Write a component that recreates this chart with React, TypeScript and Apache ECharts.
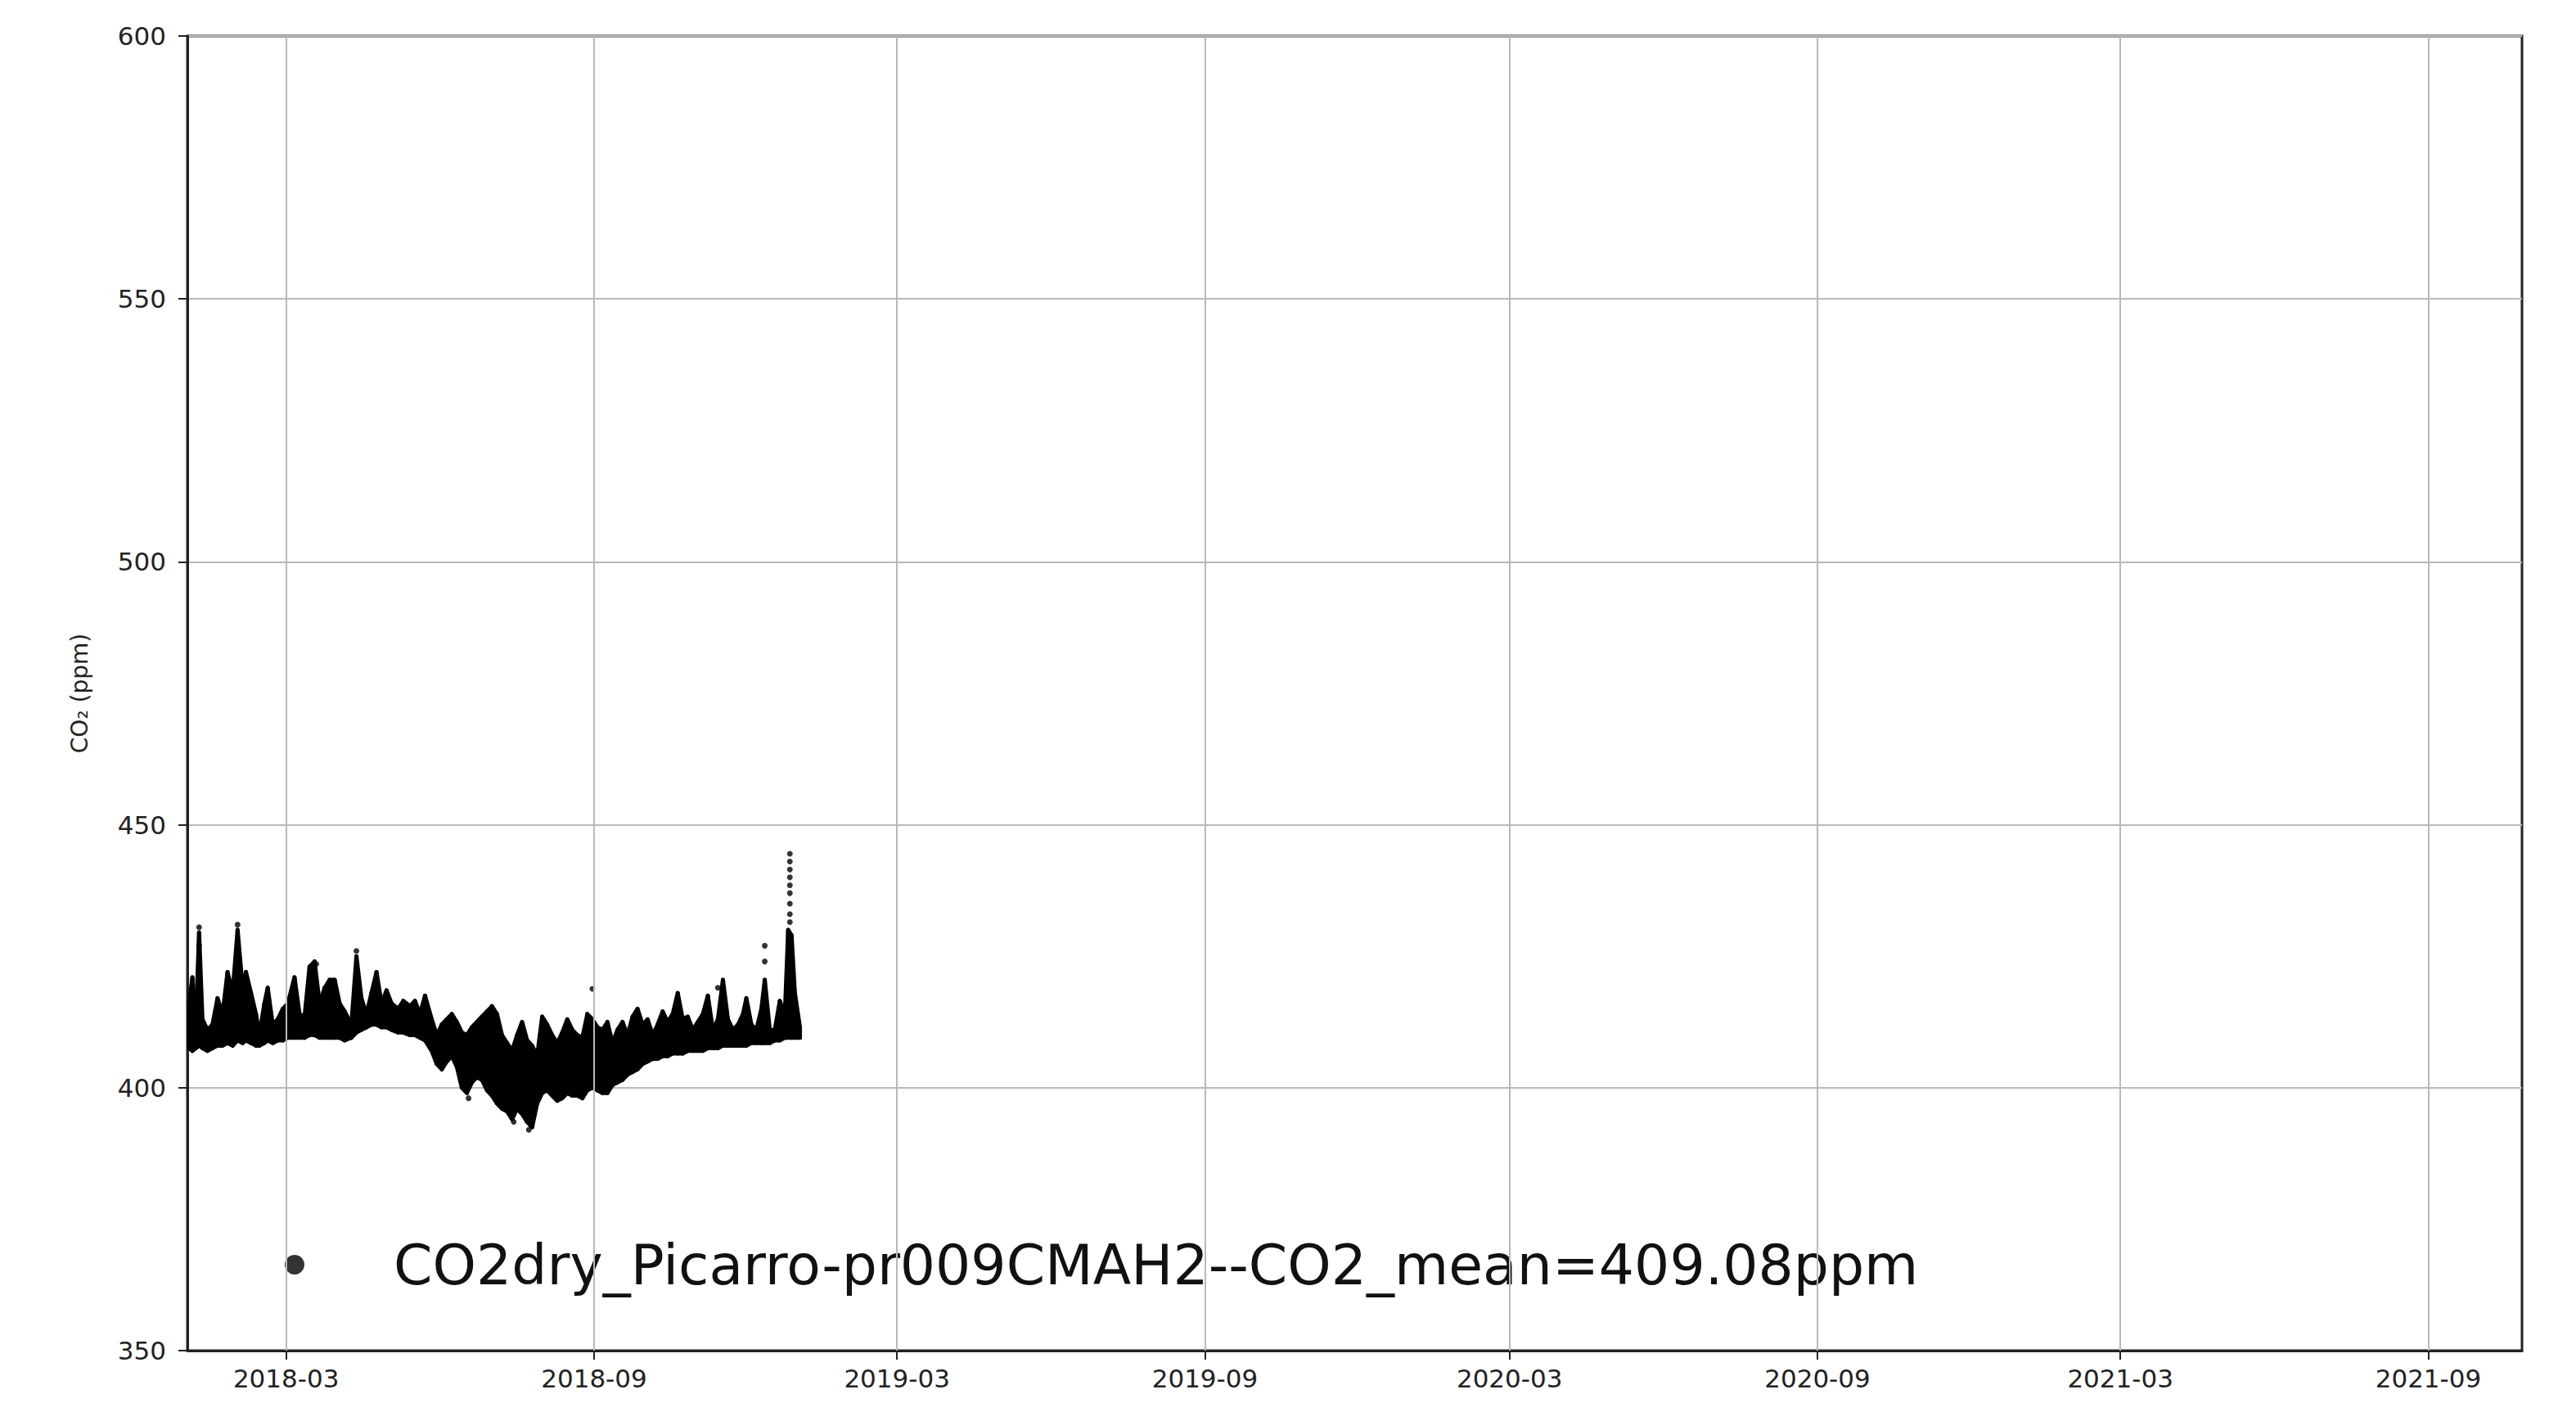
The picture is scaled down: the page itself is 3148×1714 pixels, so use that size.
import React, { useEffect, useRef } from "react";
import * as echarts from "echarts";

const seriesName = "CO2dry_Picarro-pr009CMAH2--CO2_mean=409.08ppm";
const yAxisName = "CO₂ (ppm)";
const xTickLabels = ["2018-03", "2018-09", "2019-03", "2019-09", "2020-03", "2020-09", "2021-03", "2021-09"];
const xMin = "2018-01-01";
const xMax = "2021-10-27";
const yMin = 350;
const yMax = 600;
const yStep = 50;

// band envelope: date, lower edge, upper edge (ppm)
const bandDates = [
  "2018-01-02", "2018-01-04", "2018-01-06", "2018-01-08", "2018-01-10", "2018-01-13", "2018-01-16", "2018-01-19",
  "2018-01-22", "2018-01-25", "2018-01-28", "2018-01-31", "2018-02-03", "2018-02-05", "2018-02-08", "2018-02-11",
  "2018-02-13", "2018-02-16", "2018-02-18", "2018-02-21", "2018-02-24", "2018-02-27", "2018-03-02", "2018-03-06",
  "2018-03-09", "2018-03-12", "2018-03-15", "2018-03-18", "2018-03-21", "2018-03-24", "2018-03-27", "2018-03-30",
  "2018-04-02", "2018-04-05", "2018-04-09", "2018-04-12", "2018-04-15", "2018-04-18", "2018-04-21", "2018-04-24",
  "2018-04-27", "2018-04-30", "2018-05-03", "2018-05-07", "2018-05-10", "2018-05-14", "2018-05-17", "2018-05-20",
  "2018-05-23", "2018-05-27", "2018-05-30", "2018-06-02", "2018-06-05", "2018-06-08", "2018-06-11", "2018-06-14",
  "2018-06-17", "2018-06-20", "2018-06-23", "2018-06-26", "2018-06-29", "2018-07-02", "2018-07-05", "2018-07-08",
  "2018-07-11", "2018-07-14", "2018-07-17", "2018-07-20", "2018-07-23", "2018-07-26", "2018-07-29", "2018-08-01",
  "2018-08-04", "2018-08-07", "2018-08-10", "2018-08-13", "2018-08-16", "2018-08-19", "2018-08-22", "2018-08-25",
  "2018-08-28", "2018-08-31", "2018-09-03", "2018-09-06", "2018-09-09", "2018-09-12", "2018-09-15", "2018-09-18",
  "2018-09-21", "2018-09-24", "2018-09-27", "2018-09-30", "2018-10-03", "2018-10-06", "2018-10-09", "2018-10-12",
  "2018-10-15", "2018-10-18", "2018-10-21", "2018-10-24", "2018-10-27", "2018-10-30", "2018-11-02", "2018-11-05",
  "2018-11-08", "2018-11-11", "2018-11-14", "2018-11-17", "2018-11-20", "2018-11-23", "2018-11-26", "2018-11-29",
  "2018-12-01", "2018-12-04", "2018-12-07", "2018-12-10", "2018-12-12", "2018-12-15", "2018-12-18", "2018-12-21",
  "2018-12-24", "2018-12-26", "2018-12-28", "2018-12-30", "2019-01-02",
];
const bandLow = [
  407.5, 407, 407.5, 408, 407.5, 407, 407.5, 408,
  408, 408.5, 408, 409, 408.5, 409, 408.5, 408,
  408, 408.5, 409, 408.5, 409, 409, 409.5, 409.5,
  409.5, 409.5, 410, 410, 409.5, 409.5, 409.5, 409.5,
  409.5, 409, 409.5, 410.5, 411, 411.5, 412, 412,
  411.5, 411.5, 411, 410.5, 410.5, 410, 410, 409.5,
  409, 407, 404.5, 403.5, 405, 406, 404, 400,
  399, 401, 402, 401.5, 399.5, 398.5, 397, 396,
  395.5, 394, 396, 395, 393.5, 392.5, 397, 399,
  399.5, 398.5, 397.5, 398, 399, 398.5, 398.5, 398,
  399.5, 400, 399.5, 399, 399, 400.5, 401, 401.5,
  402.5, 403, 403.5, 404.5, 405, 405.5, 405.5, 406,
  406, 406.5, 406.5, 406.5, 407, 407, 407, 407,
  407.5, 407.5, 407.5, 408, 408, 408, 408, 408,
  408, 408.5, 408.5, 408.5, 408.5, 408.5, 409, 409,
  409.5, 409.5, 409.5, 409.5, 409.5,
];
const bandHigh = [
  416, 421, 412, 429.5, 413, 411, 412, 417,
  414, 422, 418, 430, 419, 422, 418, 414,
  410, 416, 419, 412, 413, 415, 416, 421,
  414, 413.5, 423, 424, 416, 419, 420.5, 420.5,
  416, 414.5, 412, 425, 417, 414, 418, 422,
  416, 418.5, 416, 415, 416.5, 415.5, 416.5, 414,
  417.5, 413, 410, 412, 413, 414, 412.5, 410.5,
  410, 411.5, 412.5, 413.5, 414.5, 415.5, 414, 410,
  408.5, 407, 410, 412.5, 409, 408, 406, 413.5,
  412, 410, 408.5, 410.5, 413, 411, 410, 409.5,
  414, 413, 411.5, 411, 412.5, 408.5, 411, 412.5,
  410, 413.5, 415, 412, 413, 410, 412, 414.5,
  412.5, 414, 418, 413, 413.5, 411, 412.5, 414,
  417.5, 411, 413, 420.5, 413, 411, 412, 414,
  417, 412, 411, 415, 420.5, 411, 411, 416.5,
  414, 430, 429, 418, 411.5,
];

// isolated points standing out of the band
const pointDates = [
  "2018-01-03", "2018-01-08", "2018-01-08", "2018-01-31", "2018-01-31", "2018-03-19", "2018-04-12",
  "2018-06-18", "2018-07-15", "2018-07-24", "2018-07-25", "2018-08-31", "2018-11-14", "2018-12-12",
  "2018-12-12", "2018-12-27", "2018-12-27", "2018-12-27", "2018-12-27", "2018-12-27", "2018-12-27",
  "2018-12-27", "2018-12-27", "2018-12-27",
];
const pointValues = [
  418, 430.5, 427, 431, 428, 423.5, 426,
  398, 393.5, 392, 393, 418.8, 419, 427,
  424, 444.5, 443, 441.5, 440, 438.5, 437, 435, 433, 431.5,
];

const toTime = (s: string) => {
  const [y, m, d] = s.split("-").map(Number);
  return new Date(y, m - 1, d || 1).getTime();
};

const App: React.FC = () => {
  const ref = useRef<HTMLDivElement>(null);

  useEffect(() => {
    if (!ref.current) return;
    const chart = echarts.init(ref.current, undefined, { renderer: "svg" });
    const bandTimes = bandDates.map(toTime);
    const bandData = bandTimes.map((t, i) => [t, bandLow[i], bandHigh[i]]);
    const pointData = pointDates.map((d, i) => [toTime(d), pointValues[i]]);
    const xTickValues = xTickLabels.map((s) => toTime(s + "-01"));
    const fmt = (v: number) => {
      const d = new Date(v);
      return `${d.getFullYear()}-${String(d.getMonth() + 1).padStart(2, "0")}`;
    };

    chart.setOption({
      animation: false,
      backgroundColor: "#ffffff",
      textStyle: { fontFamily: "DejaVu Sans" },
      grid: {
        left: 229,
        top: 44,
        width: 2853,
        height: 1606,
        show: true,
        borderColor: "#222222",
        borderWidth: 3,
        backgroundColor: "transparent",
      },
      legend: {
        data: [{ name: seriesName, icon: "circle", itemStyle: { color: "#000000" } }],
        left: 343,
        top: 1500,
        itemWidth: 24,
        itemHeight: 24,
        selectedMode: false,
        itemStyle: { color: "#000000" },
        textStyle: {
          fontSize: 68,
          color: "#111111",
          fontFamily: "DejaVu Sans",
          lineHeight: 80,
          padding: [0, 0, 0, 104],
        },
      },
      xAxis: {
        type: "value",
        min: toTime(xMin),
        max: toTime(xMax),
        axisLine: { show: true, lineStyle: { color: "#222222", width: 3 } },
        axisTick: {
          show: true,
          length: 11,
          customValues: xTickValues,
          lineStyle: { color: "#222222", width: 2 },
        },
        axisLabel: {
          customValues: xTickValues,
          formatter: fmt,
          fontSize: 31,
          color: "#222222",
          margin: 18,
          fontFamily: "DejaVu Sans",
        },
        splitLine: { show: false },
      },
      yAxis: {
        type: "value",
        min: yMin,
        max: yMax,
        interval: yStep,
        name: yAxisName,
        nameLocation: "middle",
        nameGap: 118,
        nameTextStyle: { fontSize: 28, color: "#222222", fontFamily: "DejaVu Sans" },
        axisLine: { show: true, lineStyle: { color: "#222222", width: 3 } },
        axisTick: { show: true, length: 11, lineStyle: { color: "#222222", width: 2 } },
        axisLabel: { fontSize: 31, color: "#222222", margin: 26, fontFamily: "DejaVu Sans" },
        splitLine: { show: true, lineStyle: { color: "#b9b9b9", width: 2 } },
      },
      series: [
        {
          name: "grid-x",
          type: "line",
          data: [],
          z: 0,
          silent: true,
          markLine: {
            silent: true,
            symbol: "none",
            label: { show: false },
            lineStyle: { color: "#b9b9b9", width: 2, type: "solid" },
            data: xTickValues.map((v) => ({ xAxis: v })),
          },
        },
        {
          name: "band",
          type: "custom",
          z: 2,
          silent: true,
          data: bandData,
          renderItem: (params: any, api: any) => {
            const i = params.dataIndex;
            const j = Math.min(i + 1, bandTimes.length - 1);
            const a1 = api.coord([bandTimes[i], bandHigh[i]]);
            const a2 = api.coord([bandTimes[j], bandHigh[j]]);
            const b2 = api.coord([bandTimes[j], bandLow[j]]);
            const b1 = api.coord([bandTimes[i], bandLow[i]]);
            return {
              type: "polygon",
              shape: { points: [a1, a2, b2, b1] },
              style: { fill: "#000000", stroke: "#000000", lineWidth: 5, lineJoin: "round" },
            };
          },
        },
        {
          name: seriesName,
          type: "scatter",
          z: 3,
          data: pointData,
          symbolSize: 7,
          itemStyle: { color: "#000000" },
        },
      ],
    });

    return () => chart.dispose();
  }, []);

  return (
    <div
      ref={ref}
      style={{ position: "fixed", left: 0, top: 0, width: 3148, height: 1714, background: "#fff" }}
    />
  );
};

export default App;
